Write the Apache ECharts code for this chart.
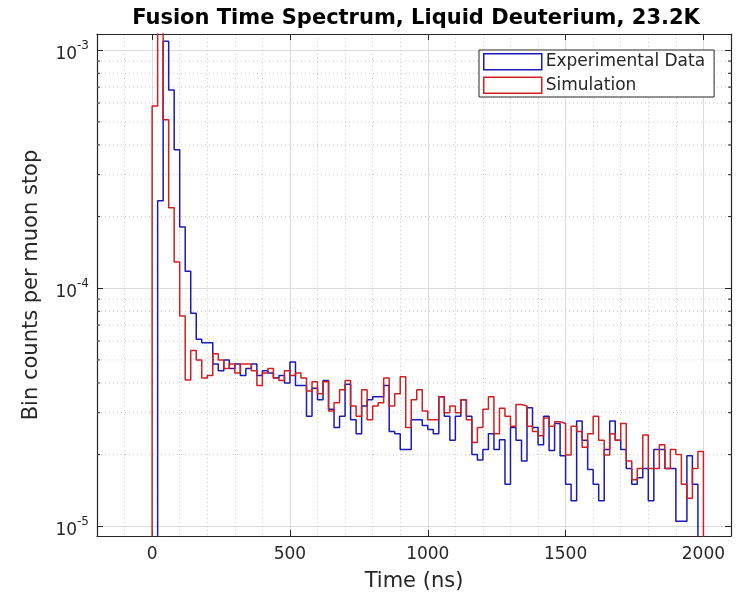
<!DOCTYPE html>
<html>
<head>
<meta charset="utf-8">
<script src="https://cdn.jsdelivr.net/npm/echarts@6/dist/echarts.min.js"></script>
<style>
  html, body { margin: 0; padding: 0; background: #fff; }
  #main { width: 738px; height: 597px; }
</style>
</head>
<body>
<div id="main"></div>
<script>
// bin left edges (ns), 20 ns wide bins, 0..1980
var binEdges = []
for (var i = 0; i < 100; i++) binEdges.push(i * 20)

// counts per muon stop; 0 = empty bin
var experimental = [
  0, 2.33e-4, 1.09e-3, 6.8e-4, 3.82e-4, 1.81e-4, 1.18e-4, 7.85e-5, 6.1e-5, 5.9e-5,
  5.9e-5, 4.8e-5, 4.5e-5, 5.0e-5, 4.6e-5, 4.8e-5, 4.3e-5, 4.6e-5, 4.8e-5, 4.3e-5,
  4.5e-5, 4.4e-5, 4.2e-5, 4.3e-5, 4.0e-5, 4.9e-5, 3.9e-5, 3.9e-5, 2.9e-5, 3.8e-5,
  3.4e-5, 4.1e-5, 3.1e-5, 2.6e-5, 2.9e-5, 3.95e-5, 2.8e-5, 2.45e-5, 3.2e-5, 3.4e-5,
  3.5e-5, 3.5e-5, 3.9e-5, 2.5e-5, 2.45e-5, 2.1e-5, 2.1e-5, 2.8e-5, 2.8e-5, 2.65e-5,
  2.55e-5, 2.45e-5, 3.5e-5, 2.9e-5, 2.3e-5, 2.9e-5, 3.4e-5, 2.9e-5, 2.0e-5, 1.9e-5,
  2.1e-5, 2.45e-5, 2.1e-5, 2.31e-5, 1.5e-5, 2.6e-5, 2.3e-5, 1.88e-5, 3.15e-5, 2.6e-5,
  2.2e-5, 2.9e-5, 2.08e-5, 2.7e-5, 1.98e-5, 1.5e-5, 1.28e-5, 2.77e-5, 2.3e-5, 1.73e-5,
  1.5e-5, 1.28e-5, 2.1e-5, 2.77e-5, 2.3e-5, 2.1e-5, 1.75e-5, 1.5e-5, 1.6e-5, 1.75e-5,
  1.28e-5, 2.1e-5, 2.1e-5, 1.75e-5, 1.75e-5, 1.05e-5, 1.05e-5, 1.98e-5, 1.5e-5, 0
]
var simulation = [
  5.83e-4, 1.5e-3, 5.1e-4, 2.18e-4, 1.29e-4, 7.65e-5, 4.12e-5, 5.47e-5, 5.0e-5, 4.2e-5,
  4.3e-5, 5.3e-5, 5.0e-5, 4.6e-5, 4.8e-5, 4.4e-5, 4.8e-5, 4.8e-5, 4.5e-5, 3.9e-5,
  4.4e-5, 4.6e-5, 4.2e-5, 4.1e-5, 4.5e-5, 4.3e-5, 4.4e-5, 4.2e-5, 3.7e-5, 4.05e-5,
  3.6e-5, 4.05e-5, 3.05e-5, 3.3e-5, 3.75e-5, 4.1e-5, 3.2e-5, 2.9e-5, 3.75e-5, 2.8e-5,
  3.2e-5, 3.3e-5, 4.2e-5, 3.2e-5, 3.6e-5, 4.25e-5, 2.6e-5, 3.4e-5, 3.75e-5, 3.05e-5,
  2.8e-5, 2.8e-5, 3.5e-5, 3.0e-5, 3.2e-5, 3.0e-5, 3.4e-5, 2.8e-5, 2.25e-5, 2.6e-5,
  3.1e-5, 3.5e-5, 2.45e-5, 3.13e-5, 2.9e-5, 2.63e-5, 3.25e-5, 3.2e-5, 2.63e-5, 2.5e-5,
  2.4e-5, 2.85e-5, 2.63e-5, 2.75e-5, 2.7e-5, 1.99e-5, 2.63e-5, 2.5e-5, 2.15e-5, 2.45e-5,
  2.9e-5, 2.3e-5, 1.99e-5, 2.45e-5, 2.3e-5, 2.7e-5, 1.88e-5, 1.57e-5, 1.75e-5, 2.42e-5,
  1.75e-5, 1.75e-5, 2.2e-5, 1.75e-5, 2.1e-5, 2.0e-5, 1.5e-5, 1.31e-5, 1.75e-5, 2.06e-5
]

var xTickLabels = [0, 500, 1000, 1500, 2000]
var yMinorGrid = [2e-5, 3e-5, 4e-5, 5e-5, 6e-5, 7e-5, 8e-5, 9e-5,
                  2e-4, 3e-4, 4e-4, 5e-4, 6e-4, 7e-4, 8e-4, 9e-4]

var FLOOR = 1e-7   // empty bins drop below the axis
var X_MIN = -200, X_MAX = 2100
var Y_MIN = 9.1e-6, Y_MAX = 1.17e-3
var FONT = 'DejaVu Sans'
var INK = '#262626'

// histogram outline as step points
function stairs(vals) {
  var pts = [[0, FLOOR]]
  vals.forEach(function (v, i) { pts.push([binEdges[i], v > 0 ? v : FLOOR]) })
  var last = vals[vals.length - 1]
  pts.push([2000, last > 0 ? last : FLOOR])
  pts.push([2000, FLOOR])
  return pts
}

function decadeLabel(v) {
  var e = Math.log10(v)
  if (Math.abs(e - Math.round(e)) > 1e-6) return ''
  return '{b|10}{s|' + Math.round(e) + '}'
}

var myChart = echarts.init(document.getElementById('main'))

var baseX = {
  type: 'value', min: X_MIN, max: X_MAX, splitNumber: 5,
  axisLine: { show: true, onZero: false, lineStyle: { color: INK, width: 1.2 } },
  axisTick: { show: true, inside: true, length: 6, lineStyle: { color: INK } }
}
var baseY = {
  type: 'log', logBase: 10, min: Y_MIN, max: Y_MAX,
  axisLine: { show: true, onZero: false, lineStyle: { color: INK, width: 1.2 } },
  axisTick: { show: true, inside: true, length: 6, lineStyle: { color: INK } }
}

var option = {
  animation: false,
  backgroundColor: '#fff',
  textStyle: { fontFamily: FONT },
  title: {
    text: 'Fusion Time Spectrum, Liquid Deuterium, 23.2K',
    left: 411, textAlign: 'center', top: 3,
    textStyle: { fontFamily: FONT, fontSize: 21, fontWeight: 'bold', color: '#000' }
  },
  grid: { left: 97, right: 7, top: 34, bottom: 59, containLabel: false },
  legend: {
    orient: 'vertical', left: 479, top: 50,
    backgroundColor: '#fff', borderColor: INK, borderWidth: 1,
    padding: [3, 9, 3, 4], itemGap: 6, itemWidth: 58, itemHeight: 16,
    textStyle: { fontFamily: FONT, fontSize: 17, color: INK, padding: [0, 0, 0, -1] },
    data: [
      { name: 'Experimental Data', icon: 'rect',
        itemStyle: { color: '#fff', borderColor: '#1a1ab8', borderWidth: 1.5 } },
      { name: 'Simulation', icon: 'rect',
        itemStyle: { color: '#fff', borderColor: '#d11f1f', borderWidth: 1.5 } }
    ]
  },
  xAxis: [
    Object.assign({}, baseX, {
      position: 'bottom',
      name: 'Time (ns)', nameLocation: 'middle', nameGap: 35,
      nameTextStyle: { fontFamily: FONT, fontSize: 21, color: INK },
      axisLabel: {
        fontFamily: FONT, fontSize: 17, color: INK, margin: 10,
        formatter: function (v) { return xTickLabels.indexOf(v) >= 0 ? String(v) : '' }
      },
      splitLine: { show: true, lineStyle: { color: '#dcdcdc', width: 1 } },
      minorTick: { show: false, splitNumber: 5 },
      minorSplitLine: { show: true, lineStyle: { color: '#c8c8c8', width: 1, type: [1, 3] } }
    }),
    Object.assign({}, baseX, {
      position: 'top', axisLabel: { show: false }, splitLine: { show: false }
    })
  ],
  yAxis: [
    Object.assign({}, baseY, {
      position: 'left',
      name: 'Bin counts per muon stop', nameLocation: 'middle', nameGap: 55,
      nameTextStyle: { fontFamily: FONT, fontSize: 21, color: INK },
      axisLabel: {
        fontFamily: FONT, color: INK, margin: 8,
        formatter: decadeLabel,
        rich: {
          b: { fontFamily: FONT, fontSize: 17, color: INK, padding: [8, 0, 0, 0] },
          s: { fontFamily: FONT, fontSize: 12, color: INK, padding: [0, 0, 8, 0] }
        }
      },
      splitLine: { show: true, lineStyle: { color: '#dcdcdc', width: 1 } }
    }),
    Object.assign({}, baseY, {
      position: 'right', axisLabel: { show: false }, splitLine: { show: false }
    })
  ],
  series: [
    {
      // minor log grid + minor ticks on both y axes
      type: 'custom', silent: true, xAxisIndex: 0, yAxisIndex: 0, z: 1,
      data: yMinorGrid.map(function (v) { return [0, v] }),
      renderItem: function (params, api) {
        var cs = params.coordSys
        var y = api.coord([0, api.value(1)])[1]
        var dot = { stroke: '#c8c8c8', lineWidth: 1, lineDash: [1, 3] }
        var tk = { stroke: INK, lineWidth: 1 }
        return {
          type: 'group', children: [
            { type: 'line', shape: { x1: cs.x, y1: y, x2: cs.x + cs.width, y2: y }, style: dot },
            { type: 'line', shape: { x1: cs.x, y1: y, x2: cs.x + 3, y2: y }, style: tk },
            { type: 'line', shape: { x1: cs.x + cs.width - 3, y1: y, x2: cs.x + cs.width, y2: y }, style: tk }
          ]
        }
      }
    },
    {
      name: 'Experimental Data', type: 'line', step: 'end',
      data: stairs(experimental), showSymbol: false, symbol: 'none', clip: true, z: 3,
      lineStyle: { color: '#1a1ab8', width: 1.5 }, itemStyle: { color: '#1a1ab8' }
    },
    {
      name: 'Simulation', type: 'line', step: 'end',
      data: stairs(simulation), showSymbol: false, symbol: 'none', clip: true, z: 4,
      lineStyle: { color: '#d11f1f', width: 1.5 }, itemStyle: { color: '#d11f1f' }
    }
  ]
}

myChart.setOption(option)
</script>
</body>
</html>
